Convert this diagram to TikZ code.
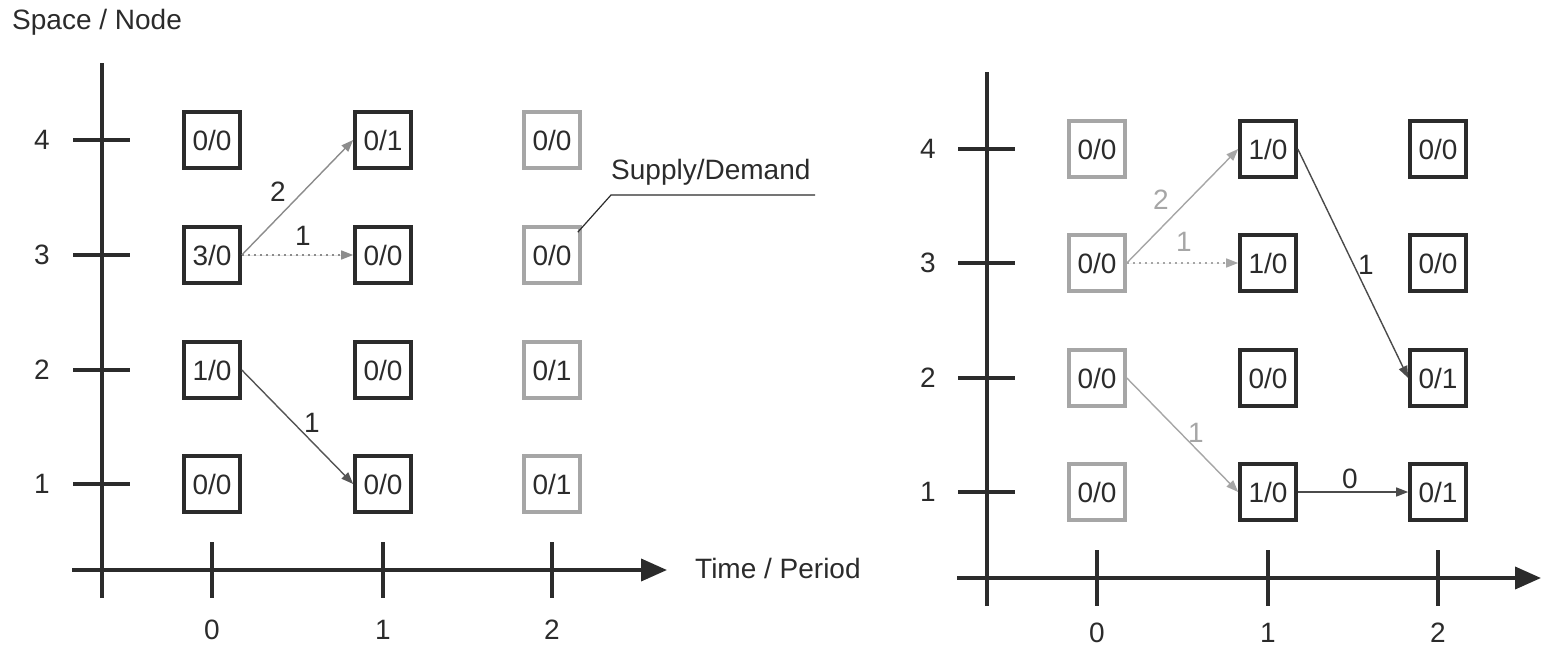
\documentclass[tikz,border=0pt]{standalone}
\usepackage{fontspec}
\setmainfont{Liberation Sans}
\usetikzlibrary{arrows.meta,calc}
\definecolor{ink}{HTML}{2B2B2B}
\definecolor{pale}{HTML}{A6A6A6}
\definecolor{mid}{HTML}{8C8C8C}
\tikzset{
  txt/.style={font=\fontsize{28}{32}\selectfont, text=ink, inner sep=0pt},
  cell/.style={txt, draw, line width=3.6pt, minimum size=56pt, inner sep=0pt},
  dark/.style={cell, draw=ink},
  light/.style={cell, draw=pale},
  axis/.style={line width=3.8pt, draw=ink},
  axisarrow/.style={axis, -{Triangle[length=26pt,width=22pt]}},
  flow/.style={line width=1.4pt, -{Triangle[length=12pt,width=9pt]}},
  flowdot/.style={flow, dash pattern=on 2pt off 4pt},
  elab/.style={txt}
}
\begin{document}
\begin{tikzpicture}[x=1pt,y=-1pt]
\useasboundingbox (0,0) rectangle (1541,647);

% ---------- left panel: axes ----------
\coordinate (Lyb) at (102,598);
\coordinate (Lyt) at (102,63);
\coordinate (Lxl) at (72,570);
\coordinate (Lxr) at (667,570);
\draw[axis] (Lyb) -- (Lyt);
\draw[axisarrow] (Lxl) -- (Lxr);
\foreach \n/\y in {4/140,3/255,2/370,1/484}{
  \draw[axis] (73,\y) -- (130,\y);
  \node[txt] (Lylab\n) at (42,\y) {\n};
}
\foreach \t/\x in {0/212,1/383,2/552}{
  \draw[axis] (\x,542) -- (\x,598);
  \node[txt] (Lxlab\t) at (\x,630) {\t};
}
\node[txt, anchor=west] (Lspace) at (12,22) {Space / Node};
\node[txt, anchor=west] (Ltime) at (695,568) {Time / Period};

% ---------- left panel: supply/demand cells ----------
\node[dark]  (L04) at (212,140) {0/0};
\node[dark]  (L14) at (383,140) {0/1};
\node[light] (L24) at (552,140) {0/0};
\node[dark]  (L03) at (212,255) {3/0};
\node[dark]  (L13) at (383,255) {0/0};
\node[light] (L23) at (552,255) {0/0};
\node[dark]  (L02) at (212,370) {1/0};
\node[dark]  (L12) at (383,370) {0/0};
\node[light] (L22) at (552,370) {0/1};
\node[dark]  (L01) at (212,484) {0/0};
\node[dark]  (L11) at (383,484) {0/0};
\node[light] (L21) at (552,484) {0/1};

% ---------- left panel: flows ----------
\draw[flow, draw=mid, fill=mid] (L03.east) -- (L14.west);
\node[elab] (Lf1) at (278,192) {2};
\draw[flowdot, draw=mid, fill=ink] (L03.east) -- (L13.west);
\node[elab] (Lf2) at (303,236) {1};
\draw[flow, draw=ink!80, fill=ink] (L02.east) -- (L11.west);
\node[elab] (Lf3) at (312,423) {1};

% callout
\node[txt, anchor=south west] (Lsd) at (611,186) {Supply/Demand};
\coordinate (Lsdend) at (815,195);
\draw[line width=1.2pt, draw=ink] ($(L23.north east)+(-4,7)$) -- (611,195) -- (Lsdend);

% ---------- right panel: axes ----------
\coordinate (Ryb) at (987,606);
\coordinate (Ryt) at (987,72);
\coordinate (Rxl) at (957,578);
\coordinate (Rxr) at (1541,578);
\draw[axis] (Ryb) -- (Ryt);
\draw[axisarrow] (Rxl) -- (Rxr);
\foreach \n/\y in {4/149,3/263,2/378,1/492}{
  \draw[axis] (958,\y) -- (1015,\y);
  \node[txt] (Rylab\n) at (928,\y) {\n};
}
\foreach \t/\x in {0/1097,1/1268,2/1438}{
  \draw[axis] (\x,550) -- (\x,606);
  \node[txt] (Rxlab\t) at (\x,633) {\t};
}

% ---------- right panel: supply/demand cells ----------
\node[light] (R04) at (1097,149) {0/0};
\node[dark]  (R14) at (1268,149) {1/0};
\node[dark]  (R24) at (1438,149) {0/0};
\node[light] (R03) at (1097,263) {0/0};
\node[dark]  (R13) at (1268,263) {1/0};
\node[dark]  (R23) at (1438,263) {0/0};
\node[light] (R02) at (1097,378) {0/0};
\node[dark]  (R12) at (1268,378) {0/0};
\node[dark]  (R22) at (1438,378) {0/1};
\node[light] (R01) at (1097,492) {0/0};
\node[dark]  (R11) at (1268,492) {1/0};
\node[dark]  (R21) at (1438,492) {0/1};

% ---------- right panel: flows ----------
\draw[flow, draw=pale, fill=pale] (R03.east) -- (R14.west);
\node[elab, text=pale] (Rf1) at (1161,200) {2};
\draw[flowdot, draw=pale, fill=pale] (R03.east) -- (R13.west);
\node[elab, text=pale] (Rf2) at (1184,242) {1};
\draw[flow, draw=pale, fill=pale] (R02.east) -- (R11.west);
\node[elab, text=pale] (Rf3) at (1196,433) {1};
\draw[flow, draw=ink!85, fill=ink] (R14.east) -- (R22.west);
\node[elab] (Rf4) at (1366,265) {1};
\draw[flow, draw=ink!85, fill=ink] (R11.east) -- (R21.west);
\node[elab] (Rf5) at (1350,479) {0};
\end{tikzpicture}
\end{document}
